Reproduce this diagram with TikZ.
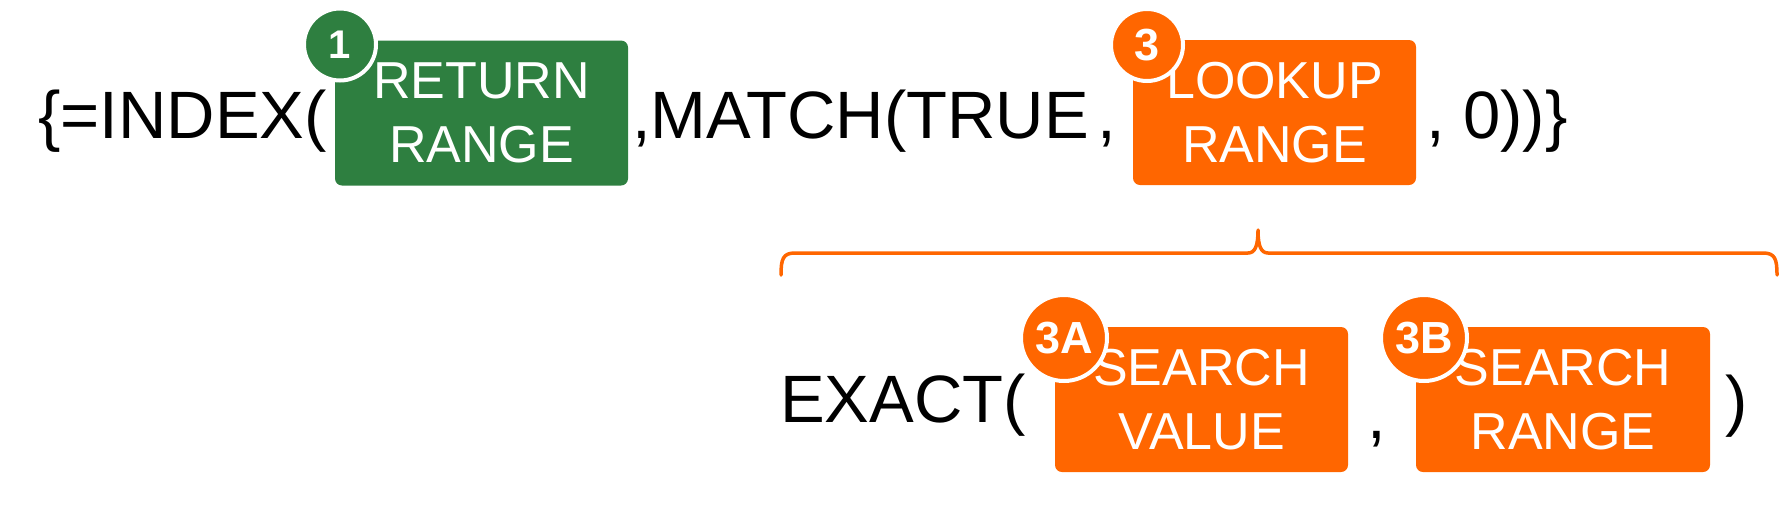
\documentclass[tikz,border=0pt]{standalone}
\usepackage{fontspec}
\setmainfont{Liberation Sans}
\definecolor{xlgreen}{RGB}{46,127,64}
\definecolor{xlorange}{RGB}{255,102,0}
\begin{document}
\begin{tikzpicture}[x=1pt,y=-1pt,
  formula/.style={inner sep=0pt, anchor=base west, font=\fontsize{67}{80}\selectfont},
  argbox/.style={rectangle, rounded corners=7pt, inner sep=0pt, text=white, align=center,
    font=\fontsize{52}{64}\selectfont, minimum width=#1, minimum height=145pt},
  badge/.style={circle, fill=#1, draw=white, line width=4pt, inner sep=0pt, text=white},
  bracepath/.style={draw=xlorange, line width=3.5pt, line cap=round, line join=round}
]
\useasboundingbox (0,0) rectangle (1791,512);

% top row
\node[formula] (t1) at (38,138) {\{=INDEX(};
\node[argbox=293pt, fill=xlgreen] (ret) at (481.5,113) {RETURN\\RANGE};
\node[formula] (t2) at (632,138) {,MATCH(TRUE};
\node[formula] (t3) at (1097,138) {,};
\node[argbox=283pt, fill=xlorange] (look) at (1274.5,112.5) {LOOKUP\\RANGE};
\node[formula] (t4) at (1426,138) {, 0))\}};

\node[badge=xlgreen, minimum size=72pt, font=\bfseries\fontsize{40}{40}\selectfont] (c1) at (340,44.5) {1};
\node[badge=xlorange, minimum size=72pt, font=\bfseries\fontsize{45}{45}\selectfont] (c3) at (1147,45) {3};

% brace
\path[bracepath] (781,275) .. controls (781,259) and (783,253) .. (795,253)
  -- (1248,253) .. controls (1255,253) and (1258,246) .. (1258,230)
  .. controls (1258,246) and (1261,253) .. (1268,253)
  -- (1763,253) .. controls (1775,253) and (1777,259) .. (1777,275);

% bottom row
\node[formula] (b1) at (780,422) {EXACT(};
\node[argbox=293pt, fill=xlorange] (sval) at (1201.5,399.5) {SEARCH\\VALUE};
\node[formula] (b2) at (1367,438) {,};
\node[argbox=294pt, fill=xlorange] (srng) at (1563,399.5) {SEARCH\\RANGE};
\node[formula] (b3) at (1725,423) {)};

\node[badge=xlorange, minimum size=86pt, font=\bfseries\fontsize{45}{45}\selectfont] (c3a) at (1064,338) {3A};
\node[badge=xlorange, minimum size=86pt, font=\bfseries\fontsize{45}{45}\selectfont] (c3b) at (1424,338) {3B};
\end{tikzpicture}
\end{document}
